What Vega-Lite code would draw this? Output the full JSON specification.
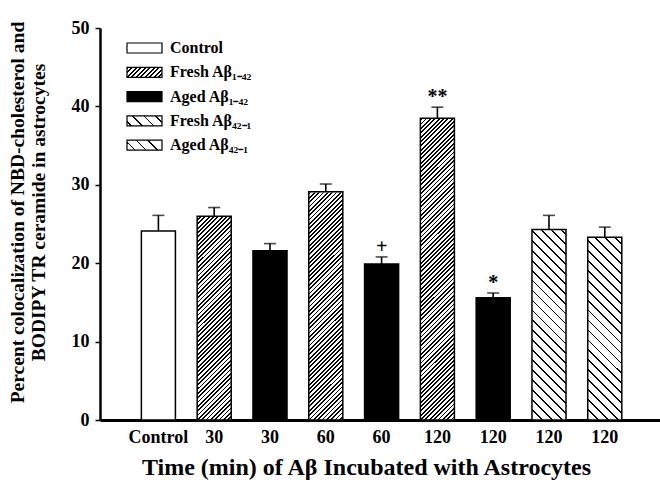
{
  "$schema": "https://vega.github.io/schema/vega-lite/v6.json",
  "autosize": {"type": "none"},
  "padding": {"left": 100, "top": 28, "right": 0, "bottom": 65},
  "width": 560,
  "height": 392,
  "background": "#ffffff",
  "config": {
    "view": {"stroke": null},
    "font": "Liberation Serif"
  },
  "data": {
    "values": [
      {"id": "Control|1", "group": "Control", "prep": "Control", "peptide": "none", "value": 24.1, "err": 26.1, "sig": ""},
      {"id": "30|2", "group": "Fresh Aβ₁₋₄₂", "prep": "Fresh", "peptide": "1-42", "value": 26.0, "err": 27.1, "sig": ""},
      {"id": "30|3", "group": "Aged Aβ₁₋₄₂", "prep": "Aged", "peptide": "1-42", "value": 21.6, "err": 22.5, "sig": ""},
      {"id": "60|4", "group": "Fresh Aβ₁₋₄₂", "prep": "Fresh", "peptide": "1-42", "value": 29.1, "err": 30.1, "sig": ""},
      {"id": "60|5", "group": "Aged Aβ₁₋₄₂", "prep": "Aged", "peptide": "1-42", "value": 19.9, "err": 20.8, "sig": "+"},
      {"id": "120|6", "group": "Fresh Aβ₁₋₄₂", "prep": "Fresh", "peptide": "1-42", "value": 38.5, "err": 39.9, "sig": "**"},
      {"id": "120|7", "group": "Aged Aβ₁₋₄₂", "prep": "Aged", "peptide": "1-42", "value": 15.6, "err": 16.2, "sig": "*"},
      {"id": "120|8", "group": "Fresh Aβ₄₂₋₁", "prep": "Fresh", "peptide": "42-1", "value": 24.3, "err": 26.1, "sig": ""},
      {"id": "120|9", "group": "Aged Aβ₄₂₋₁", "prep": "Aged", "peptide": "42-1", "value": 23.3, "err": 24.6, "sig": ""}
    ]
  },
  "encoding": {
    "x": {
      "field": "id",
      "type": "nominal",
      "scale": {
        "domain": ["Control|1", "30|2", "30|3", "60|4", "60|5", "120|6", "120|7", "120|8", "120|9"],
        "paddingInner": 0.39, "paddingOuter": 0.713, "align": 0.52
      },
      "axis": {
        "title": "Time (min) of Aβ Incubated with Astrocytes",
        "titleFont": "Liberation Serif",
        "titleFontSize": 24,
        "titleFontWeight": "bold",
        "titleColor": "#000",
        "titlePadding": 9,
        "titleX": 266,
        "labelExpr": "split(datum.label, '|')[0]",
        "labelAngle": 0,
        "labelFont": "Liberation Serif",
        "labelFontSize": 18,
        "labelFontWeight": "bold",
        "labelColor": "#000",
        "labelPadding": 8,
        "ticks": false,
        "tickSize": 0,
        "domainColor": "#000",
        "domainWidth": 3
      }
    },
    "y": {
      "field": "value",
      "type": "quantitative",
      "scale": {"domain": [0, 50], "nice": false},
      "axis": {
        "title": ["Percent colocalization of NBD-cholesterol and", "BODIPY TR ceramide in astrocytes"],
        "titleFont": "Liberation Serif",
        "titleFontSize": 19.5,
        "titleFontWeight": "bold",
        "titleColor": "#000",
        "titleLineHeight": 21,
        "titlePadding": 23,
        "titleY": 184,
        "values": [0, 10, 20, 30, 40, 50],
        "labelFont": "Liberation Serif",
        "labelFontSize": 18,
        "labelFontWeight": "bold",
        "labelColor": "#000",
        "labelPadding": 6,
        "tickSize": 5,
        "tickWidth": 1.5,
        "tickColor": "#000",
        "domainColor": "#000",
        "domainWidth": 2.5,
        "grid": false
      }
    }
  },
  "layer": [
    {
      "description": "Fresh A-beta 1-42 columns: tall '////' hatched slabs, trimmed to bar height by the mask layer",
      "transform": [{"filter": "datum.prep == 'Fresh' && datum.peptide == '1-42'"}],
      "mark": {
        "type": "bar",
        "fill": {
          "gradient": "linear", "x1": 0, "y1": 0, "x2": 0.118776, "y2": 1.09553,
          "stops": [
            {"offset":0,"color":"#000"},{"offset":0.00525,"color":"#000"},{"offset":0.00525,"color":"#fff"},{"offset":0.0125,"color":"#fff"},
            {"offset":0.0125,"color":"#000"},{"offset":0.01775,"color":"#000"},{"offset":0.01775,"color":"#fff"},{"offset":0.025,"color":"#fff"},
            {"offset":0.025,"color":"#000"},{"offset":0.03025,"color":"#000"},{"offset":0.03025,"color":"#fff"},{"offset":0.0375,"color":"#fff"},
            {"offset":0.0375,"color":"#000"},{"offset":0.04275,"color":"#000"},{"offset":0.04275,"color":"#fff"},{"offset":0.05,"color":"#fff"},
            {"offset":0.05,"color":"#000"},{"offset":0.05525,"color":"#000"},{"offset":0.05525,"color":"#fff"},{"offset":0.0625,"color":"#fff"},
            {"offset":0.0625,"color":"#000"},{"offset":0.06775,"color":"#000"},{"offset":0.06775,"color":"#fff"},{"offset":0.075,"color":"#fff"},
            {"offset":0.075,"color":"#000"},{"offset":0.08025,"color":"#000"},{"offset":0.08025,"color":"#fff"},{"offset":0.0875,"color":"#fff"},
            {"offset":0.0875,"color":"#000"},{"offset":0.09275,"color":"#000"},{"offset":0.09275,"color":"#fff"},{"offset":0.1,"color":"#fff"},
            {"offset":0.1,"color":"#000"},{"offset":0.10525,"color":"#000"},{"offset":0.10525,"color":"#fff"},{"offset":0.1125,"color":"#fff"},
            {"offset":0.1125,"color":"#000"},{"offset":0.11775,"color":"#000"},{"offset":0.11775,"color":"#fff"},{"offset":0.125,"color":"#fff"},
            {"offset":0.125,"color":"#000"},{"offset":0.13025,"color":"#000"},{"offset":0.13025,"color":"#fff"},{"offset":0.1375,"color":"#fff"},
            {"offset":0.1375,"color":"#000"},{"offset":0.14275,"color":"#000"},{"offset":0.14275,"color":"#fff"},{"offset":0.15,"color":"#fff"},
            {"offset":0.15,"color":"#000"},{"offset":0.15525,"color":"#000"},{"offset":0.15525,"color":"#fff"},{"offset":0.1625,"color":"#fff"},
            {"offset":0.1625,"color":"#000"},{"offset":0.16775,"color":"#000"},{"offset":0.16775,"color":"#fff"},{"offset":0.175,"color":"#fff"},
            {"offset":0.175,"color":"#000"},{"offset":0.18025,"color":"#000"},{"offset":0.18025,"color":"#fff"},{"offset":0.1875,"color":"#fff"},
            {"offset":0.1875,"color":"#000"},{"offset":0.19275,"color":"#000"},{"offset":0.19275,"color":"#fff"},{"offset":0.2,"color":"#fff"},
            {"offset":0.2,"color":"#000"},{"offset":0.20525,"color":"#000"},{"offset":0.20525,"color":"#fff"},{"offset":0.2125,"color":"#fff"},
            {"offset":0.2125,"color":"#000"},{"offset":0.21775,"color":"#000"},{"offset":0.21775,"color":"#fff"},{"offset":0.225,"color":"#fff"},
            {"offset":0.225,"color":"#000"},{"offset":0.23025,"color":"#000"},{"offset":0.23025,"color":"#fff"},{"offset":0.2375,"color":"#fff"},
            {"offset":0.2375,"color":"#000"},{"offset":0.24275,"color":"#000"},{"offset":0.24275,"color":"#fff"},{"offset":0.25,"color":"#fff"},
            {"offset":0.25,"color":"#000"},{"offset":0.25525,"color":"#000"},{"offset":0.25525,"color":"#fff"},{"offset":0.2625,"color":"#fff"},
            {"offset":0.2625,"color":"#000"},{"offset":0.26775,"color":"#000"},{"offset":0.26775,"color":"#fff"},{"offset":0.275,"color":"#fff"},
            {"offset":0.275,"color":"#000"},{"offset":0.28025,"color":"#000"},{"offset":0.28025,"color":"#fff"},{"offset":0.2875,"color":"#fff"},
            {"offset":0.2875,"color":"#000"},{"offset":0.29275,"color":"#000"},{"offset":0.29275,"color":"#fff"},{"offset":0.3,"color":"#fff"},
            {"offset":0.3,"color":"#000"},{"offset":0.30525,"color":"#000"},{"offset":0.30525,"color":"#fff"},{"offset":0.3125,"color":"#fff"},
            {"offset":0.3125,"color":"#000"},{"offset":0.31775,"color":"#000"},{"offset":0.31775,"color":"#fff"},{"offset":0.325,"color":"#fff"},
            {"offset":0.325,"color":"#000"},{"offset":0.33025,"color":"#000"},{"offset":0.33025,"color":"#fff"},{"offset":0.3375,"color":"#fff"},
            {"offset":0.3375,"color":"#000"},{"offset":0.34275,"color":"#000"},{"offset":0.34275,"color":"#fff"},{"offset":0.35,"color":"#fff"},
            {"offset":0.35,"color":"#000"},{"offset":0.35525,"color":"#000"},{"offset":0.35525,"color":"#fff"},{"offset":0.3625,"color":"#fff"},
            {"offset":0.3625,"color":"#000"},{"offset":0.36775,"color":"#000"},{"offset":0.36775,"color":"#fff"},{"offset":0.375,"color":"#fff"},
            {"offset":0.375,"color":"#000"},{"offset":0.38025,"color":"#000"},{"offset":0.38025,"color":"#fff"},{"offset":0.3875,"color":"#fff"},
            {"offset":0.3875,"color":"#000"},{"offset":0.39275,"color":"#000"},{"offset":0.39275,"color":"#fff"},{"offset":0.4,"color":"#fff"},
            {"offset":0.4,"color":"#000"},{"offset":0.40525,"color":"#000"},{"offset":0.40525,"color":"#fff"},{"offset":0.4125,"color":"#fff"},
            {"offset":0.4125,"color":"#000"},{"offset":0.41775,"color":"#000"},{"offset":0.41775,"color":"#fff"},{"offset":0.425,"color":"#fff"},
            {"offset":0.425,"color":"#000"},{"offset":0.43025,"color":"#000"},{"offset":0.43025,"color":"#fff"},{"offset":0.4375,"color":"#fff"},
            {"offset":0.4375,"color":"#000"},{"offset":0.44275,"color":"#000"},{"offset":0.44275,"color":"#fff"},{"offset":0.45,"color":"#fff"},
            {"offset":0.45,"color":"#000"},{"offset":0.45525,"color":"#000"},{"offset":0.45525,"color":"#fff"},{"offset":0.4625,"color":"#fff"},
            {"offset":0.4625,"color":"#000"},{"offset":0.46775,"color":"#000"},{"offset":0.46775,"color":"#fff"},{"offset":0.475,"color":"#fff"},
            {"offset":0.475,"color":"#000"},{"offset":0.48025,"color":"#000"},{"offset":0.48025,"color":"#fff"},{"offset":0.4875,"color":"#fff"},
            {"offset":0.4875,"color":"#000"},{"offset":0.49275,"color":"#000"},{"offset":0.49275,"color":"#fff"},{"offset":0.5,"color":"#fff"},
            {"offset":0.5,"color":"#000"},{"offset":0.50525,"color":"#000"},{"offset":0.50525,"color":"#fff"},{"offset":0.5125,"color":"#fff"},
            {"offset":0.5125,"color":"#000"},{"offset":0.51775,"color":"#000"},{"offset":0.51775,"color":"#fff"},{"offset":0.525,"color":"#fff"},
            {"offset":0.525,"color":"#000"},{"offset":0.53025,"color":"#000"},{"offset":0.53025,"color":"#fff"},{"offset":0.5375,"color":"#fff"},
            {"offset":0.5375,"color":"#000"},{"offset":0.54275,"color":"#000"},{"offset":0.54275,"color":"#fff"},{"offset":0.55,"color":"#fff"},
            {"offset":0.55,"color":"#000"},{"offset":0.55525,"color":"#000"},{"offset":0.55525,"color":"#fff"},{"offset":0.5625,"color":"#fff"},
            {"offset":0.5625,"color":"#000"},{"offset":0.56775,"color":"#000"},{"offset":0.56775,"color":"#fff"},{"offset":0.575,"color":"#fff"},
            {"offset":0.575,"color":"#000"},{"offset":0.58025,"color":"#000"},{"offset":0.58025,"color":"#fff"},{"offset":0.5875,"color":"#fff"},
            {"offset":0.5875,"color":"#000"},{"offset":0.59275,"color":"#000"},{"offset":0.59275,"color":"#fff"},{"offset":0.6,"color":"#fff"},
            {"offset":0.6,"color":"#000"},{"offset":0.60525,"color":"#000"},{"offset":0.60525,"color":"#fff"},{"offset":0.6125,"color":"#fff"},
            {"offset":0.6125,"color":"#000"},{"offset":0.61775,"color":"#000"},{"offset":0.61775,"color":"#fff"},{"offset":0.625,"color":"#fff"},
            {"offset":0.625,"color":"#000"},{"offset":0.63025,"color":"#000"},{"offset":0.63025,"color":"#fff"},{"offset":0.6375,"color":"#fff"},
            {"offset":0.6375,"color":"#000"},{"offset":0.64275,"color":"#000"},{"offset":0.64275,"color":"#fff"},{"offset":0.65,"color":"#fff"},
            {"offset":0.65,"color":"#000"},{"offset":0.65525,"color":"#000"},{"offset":0.65525,"color":"#fff"},{"offset":0.6625,"color":"#fff"},
            {"offset":0.6625,"color":"#000"},{"offset":0.66775,"color":"#000"},{"offset":0.66775,"color":"#fff"},{"offset":0.675,"color":"#fff"},
            {"offset":0.675,"color":"#000"},{"offset":0.68025,"color":"#000"},{"offset":0.68025,"color":"#fff"},{"offset":0.6875,"color":"#fff"},
            {"offset":0.6875,"color":"#000"},{"offset":0.69275,"color":"#000"},{"offset":0.69275,"color":"#fff"},{"offset":0.7,"color":"#fff"},
            {"offset":0.7,"color":"#000"},{"offset":0.70525,"color":"#000"},{"offset":0.70525,"color":"#fff"},{"offset":0.7125,"color":"#fff"},
            {"offset":0.7125,"color":"#000"},{"offset":0.71775,"color":"#000"},{"offset":0.71775,"color":"#fff"},{"offset":0.725,"color":"#fff"},
            {"offset":0.725,"color":"#000"},{"offset":0.73025,"color":"#000"},{"offset":0.73025,"color":"#fff"},{"offset":0.7375,"color":"#fff"},
            {"offset":0.7375,"color":"#000"},{"offset":0.74275,"color":"#000"},{"offset":0.74275,"color":"#fff"},{"offset":0.75,"color":"#fff"},
            {"offset":0.75,"color":"#000"},{"offset":0.75525,"color":"#000"},{"offset":0.75525,"color":"#fff"},{"offset":0.7625,"color":"#fff"},
            {"offset":0.7625,"color":"#000"},{"offset":0.76775,"color":"#000"},{"offset":0.76775,"color":"#fff"},{"offset":0.775,"color":"#fff"},
            {"offset":0.775,"color":"#000"},{"offset":0.78025,"color":"#000"},{"offset":0.78025,"color":"#fff"},{"offset":0.7875,"color":"#fff"},
            {"offset":0.7875,"color":"#000"},{"offset":0.79275,"color":"#000"},{"offset":0.79275,"color":"#fff"},{"offset":0.8,"color":"#fff"},
            {"offset":0.8,"color":"#000"},{"offset":0.80525,"color":"#000"},{"offset":0.80525,"color":"#fff"},{"offset":0.8125,"color":"#fff"},
            {"offset":0.8125,"color":"#000"},{"offset":0.81775,"color":"#000"},{"offset":0.81775,"color":"#fff"},{"offset":0.825,"color":"#fff"},
            {"offset":0.825,"color":"#000"},{"offset":0.83025,"color":"#000"},{"offset":0.83025,"color":"#fff"},{"offset":0.8375,"color":"#fff"},
            {"offset":0.8375,"color":"#000"},{"offset":0.84275,"color":"#000"},{"offset":0.84275,"color":"#fff"},{"offset":0.85,"color":"#fff"},
            {"offset":0.85,"color":"#000"},{"offset":0.85525,"color":"#000"},{"offset":0.85525,"color":"#fff"},{"offset":0.8625,"color":"#fff"},
            {"offset":0.8625,"color":"#000"},{"offset":0.86775,"color":"#000"},{"offset":0.86775,"color":"#fff"},{"offset":0.875,"color":"#fff"},
            {"offset":0.875,"color":"#000"},{"offset":0.88025,"color":"#000"},{"offset":0.88025,"color":"#fff"},{"offset":0.8875,"color":"#fff"},
            {"offset":0.8875,"color":"#000"},{"offset":0.89275,"color":"#000"},{"offset":0.89275,"color":"#fff"},{"offset":0.9,"color":"#fff"},
            {"offset":0.9,"color":"#000"},{"offset":0.90525,"color":"#000"},{"offset":0.90525,"color":"#fff"},{"offset":0.9125,"color":"#fff"},
            {"offset":0.9125,"color":"#000"},{"offset":0.91775,"color":"#000"},{"offset":0.91775,"color":"#fff"},{"offset":0.925,"color":"#fff"},
            {"offset":0.925,"color":"#000"},{"offset":0.93025,"color":"#000"},{"offset":0.93025,"color":"#fff"},{"offset":0.9375,"color":"#fff"},
            {"offset":0.9375,"color":"#000"},{"offset":0.94275,"color":"#000"},{"offset":0.94275,"color":"#fff"},{"offset":0.95,"color":"#fff"},
            {"offset":0.95,"color":"#000"},{"offset":0.95525,"color":"#000"},{"offset":0.95525,"color":"#fff"},{"offset":0.9625,"color":"#fff"},
            {"offset":0.9625,"color":"#000"},{"offset":0.96775,"color":"#000"},{"offset":0.96775,"color":"#fff"},{"offset":0.975,"color":"#fff"},
            {"offset":0.975,"color":"#000"},{"offset":0.98025,"color":"#000"},{"offset":0.98025,"color":"#fff"},{"offset":0.9875,"color":"#fff"},
            {"offset":0.9875,"color":"#000"},{"offset":0.99275,"color":"#000"},{"offset":0.99275,"color":"#fff"},{"offset":1,"color":"#fff"}
          ]
        }
      },
      "encoding": {
        "y": {"datum": 40, "type": "quantitative"},
        "y2": {"datum": 0}
      }
    },
    {
      "description": "Reverse-sequence A-beta 42-1 columns: tall backslash-hatched slabs",
      "transform": [{"filter": "datum.peptide == '42-1'"}],
      "mark": {
        "type": "bar",
        "fill": {
          "gradient": "linear", "x1": 0, "y1": 1, "x2": 0.118776, "y2": -0.09553,
          "stops": [
            {"offset":0,"color":"#000"},{"offset":0.005,"color":"#000"},{"offset":0.005,"color":"#fff"},{"offset":0.0286,"color":"#fff"},
            {"offset":0.0286,"color":"#000"},{"offset":0.0336,"color":"#000"},{"offset":0.0336,"color":"#fff"},{"offset":0.0571,"color":"#fff"},
            {"offset":0.0571,"color":"#000"},{"offset":0.0621,"color":"#000"},{"offset":0.0621,"color":"#fff"},{"offset":0.0857,"color":"#fff"},
            {"offset":0.0857,"color":"#000"},{"offset":0.0907,"color":"#000"},{"offset":0.0907,"color":"#fff"},{"offset":0.1143,"color":"#fff"},
            {"offset":0.1143,"color":"#000"},{"offset":0.1193,"color":"#000"},{"offset":0.1193,"color":"#fff"},{"offset":0.1429,"color":"#fff"},
            {"offset":0.1429,"color":"#000"},{"offset":0.1479,"color":"#000"},{"offset":0.1479,"color":"#fff"},{"offset":0.1714,"color":"#fff"},
            {"offset":0.1714,"color":"#000"},{"offset":0.1764,"color":"#000"},{"offset":0.1764,"color":"#fff"},{"offset":0.2,"color":"#fff"},
            {"offset":0.2,"color":"#000"},{"offset":0.205,"color":"#000"},{"offset":0.205,"color":"#fff"},{"offset":0.2286,"color":"#fff"},
            {"offset":0.2286,"color":"#000"},{"offset":0.2336,"color":"#000"},{"offset":0.2336,"color":"#fff"},{"offset":0.2571,"color":"#fff"},
            {"offset":0.2571,"color":"#000"},{"offset":0.2621,"color":"#000"},{"offset":0.2621,"color":"#fff"},{"offset":0.2857,"color":"#fff"},
            {"offset":0.2857,"color":"#000"},{"offset":0.2907,"color":"#000"},{"offset":0.2907,"color":"#fff"},{"offset":0.3143,"color":"#fff"},
            {"offset":0.3143,"color":"#000"},{"offset":0.3193,"color":"#000"},{"offset":0.3193,"color":"#fff"},{"offset":0.3429,"color":"#fff"},
            {"offset":0.3429,"color":"#000"},{"offset":0.3479,"color":"#000"},{"offset":0.3479,"color":"#fff"},{"offset":0.3714,"color":"#fff"},
            {"offset":0.3714,"color":"#000"},{"offset":0.3764,"color":"#000"},{"offset":0.3764,"color":"#fff"},{"offset":0.4,"color":"#fff"},
            {"offset":0.4,"color":"#000"},{"offset":0.405,"color":"#000"},{"offset":0.405,"color":"#fff"},{"offset":0.4286,"color":"#fff"},
            {"offset":0.4286,"color":"#000"},{"offset":0.4336,"color":"#000"},{"offset":0.4336,"color":"#fff"},{"offset":0.4571,"color":"#fff"},
            {"offset":0.4571,"color":"#000"},{"offset":0.4621,"color":"#000"},{"offset":0.4621,"color":"#fff"},{"offset":0.4857,"color":"#fff"},
            {"offset":0.4857,"color":"#000"},{"offset":0.4907,"color":"#000"},{"offset":0.4907,"color":"#fff"},{"offset":0.5143,"color":"#fff"},
            {"offset":0.5143,"color":"#000"},{"offset":0.5193,"color":"#000"},{"offset":0.5193,"color":"#fff"},{"offset":0.5429,"color":"#fff"},
            {"offset":0.5429,"color":"#000"},{"offset":0.5479,"color":"#000"},{"offset":0.5479,"color":"#fff"},{"offset":0.5714,"color":"#fff"},
            {"offset":0.5714,"color":"#000"},{"offset":0.5764,"color":"#000"},{"offset":0.5764,"color":"#fff"},{"offset":0.6,"color":"#fff"},
            {"offset":0.6,"color":"#000"},{"offset":0.605,"color":"#000"},{"offset":0.605,"color":"#fff"},{"offset":0.6286,"color":"#fff"},
            {"offset":0.6286,"color":"#000"},{"offset":0.6336,"color":"#000"},{"offset":0.6336,"color":"#fff"},{"offset":0.6571,"color":"#fff"},
            {"offset":0.6571,"color":"#000"},{"offset":0.6621,"color":"#000"},{"offset":0.6621,"color":"#fff"},{"offset":0.6857,"color":"#fff"},
            {"offset":0.6857,"color":"#000"},{"offset":0.6907,"color":"#000"},{"offset":0.6907,"color":"#fff"},{"offset":0.7143,"color":"#fff"},
            {"offset":0.7143,"color":"#000"},{"offset":0.7193,"color":"#000"},{"offset":0.7193,"color":"#fff"},{"offset":0.7429,"color":"#fff"},
            {"offset":0.7429,"color":"#000"},{"offset":0.7479,"color":"#000"},{"offset":0.7479,"color":"#fff"},{"offset":0.7714,"color":"#fff"},
            {"offset":0.7714,"color":"#000"},{"offset":0.7764,"color":"#000"},{"offset":0.7764,"color":"#fff"},{"offset":0.8,"color":"#fff"},
            {"offset":0.8,"color":"#000"},{"offset":0.805,"color":"#000"},{"offset":0.805,"color":"#fff"},{"offset":0.8286,"color":"#fff"},
            {"offset":0.8286,"color":"#000"},{"offset":0.8336,"color":"#000"},{"offset":0.8336,"color":"#fff"},{"offset":0.8571,"color":"#fff"},
            {"offset":0.8571,"color":"#000"},{"offset":0.8621,"color":"#000"},{"offset":0.8621,"color":"#fff"},{"offset":0.8857,"color":"#fff"},
            {"offset":0.8857,"color":"#000"},{"offset":0.8907,"color":"#000"},{"offset":0.8907,"color":"#fff"},{"offset":0.9143,"color":"#fff"},
            {"offset":0.9143,"color":"#000"},{"offset":0.9193,"color":"#000"},{"offset":0.9193,"color":"#fff"},{"offset":0.9429,"color":"#fff"},
            {"offset":0.9429,"color":"#000"},{"offset":0.9479,"color":"#000"},{"offset":0.9479,"color":"#fff"},{"offset":0.9714,"color":"#fff"},
            {"offset":0.9714,"color":"#000"},{"offset":0.9764,"color":"#000"},{"offset":0.9764,"color":"#fff"},{"offset":1,"color":"#fff"}
          ]
        }
      },
      "encoding": {
        "y": {"datum": 40, "type": "quantitative"},
        "y2": {"datum": 0}
      }
    },
    {
      "description": "White cover above each hatched bar so the hatching stops at the bar's value",
      "transform": [{"filter": "datum.prep == 'Fresh' || datum.peptide == '42-1'"}],
      "mark": {"type": "bar", "fill": "#fff", "stroke": "#fff", "strokeWidth": 1.5},
      "encoding": {
        "y": {"field": "value", "type": "quantitative"},
        "y2": {"datum": 40}
      }
    },
    {
      "description": "Bar outlines; control is open, aged 1-42 is solid black",
      "mark": {"type": "bar", "stroke": "#000", "strokeWidth": 1.5},
      "encoding": {
        "fill": {
          "condition": [
            {"test": "datum.prep == 'Control'", "value": "#fff"},
            {"test": "datum.prep == 'Aged' && datum.peptide == '1-42'", "value": "#000"}
          ],
          "value": "transparent"
        }
      }
    },
    {
      "mark": {"type": "rule", "color": "#000", "strokeWidth": 1.6},
      "encoding": {
        "y": {"field": "value", "type": "quantitative"},
        "y2": {"field": "err"}
      }
    },
    {
      "mark": {"type": "tick", "color": "#000", "size": 12, "thickness": 1.6},
      "encoding": {
        "y": {"field": "err", "type": "quantitative"}
      }
    },
    {
      "transform": [{"filter": "datum.sig != ''"}],
      "mark": {"type": "text", "font": "Liberation Serif", "fontSize": 20, "fontWeight": "bold", "color": "#000", "baseline": "alphabetic", "dy": -4},
      "encoding": {
        "y": {"field": "err", "type": "quantitative"},
        "text": {"field": "sig"}
      }
    },
    {
      "description": "Invisible points that carry the legend; hatched swatches come from gradient-valued range entries",
      "mark": {"type": "square", "opacity": 0, "stroke": "#000", "strokeWidth": 1.2},
      "encoding": {
        "fill": {
          "field": "group",
          "type": "nominal",
          "scale": {
            "domain": ["Control", "Fresh Aβ₁₋₄₂", "Aged Aβ₁₋₄₂", "Fresh Aβ₄₂₋₁", "Aged Aβ₄₂₋₁"],
            "range": [
              "#fff",
              {"expr": "{gradient: 'linear', x1: 0, y1: 0, x2: 1.188679, y2: 0.339623, stops: [{offset: 0, color: '#000'}, {offset: 0.042, color: '#000'}, {offset: 0.042, color: '#fff'}, {offset: 0.1, color: '#fff'}, {offset: 0.1, color: '#000'}, {offset: 0.142, color: '#000'}, {offset: 0.142, color: '#fff'}, {offset: 0.2, color: '#fff'}, {offset: 0.2, color: '#000'}, {offset: 0.242, color: '#000'}, {offset: 0.242, color: '#fff'}, {offset: 0.3, color: '#fff'}, {offset: 0.3, color: '#000'}, {offset: 0.342, color: '#000'}, {offset: 0.342, color: '#fff'}, {offset: 0.4, color: '#fff'}, {offset: 0.4, color: '#000'}, {offset: 0.442, color: '#000'}, {offset: 0.442, color: '#fff'}, {offset: 0.5, color: '#fff'}, {offset: 0.5, color: '#000'}, {offset: 0.542, color: '#000'}, {offset: 0.542, color: '#fff'}, {offset: 0.6, color: '#fff'}, {offset: 0.6, color: '#000'}, {offset: 0.642, color: '#000'}, {offset: 0.642, color: '#fff'}, {offset: 0.7, color: '#fff'}, {offset: 0.7, color: '#000'}, {offset: 0.742, color: '#000'}, {offset: 0.742, color: '#fff'}, {offset: 0.8, color: '#fff'}, {offset: 0.8, color: '#000'}, {offset: 0.842, color: '#000'}, {offset: 0.842, color: '#fff'}, {offset: 0.9, color: '#fff'}, {offset: 0.9, color: '#000'}, {offset: 0.942, color: '#000'}, {offset: 0.942, color: '#fff'}, {offset: 1, color: '#fff'}]}"},
              "#000",
              {"expr": "{gradient: 'linear', x1: 0, y1: 1, x2: 1.188679, y2: 0.660377, stops: [{offset: 0, color: '#fff'}, {offset: 0.08, color: '#fff'}, {offset: 0.08, color: '#000'}, {offset: 0.115, color: '#000'}, {offset: 0.115, color: '#fff'}, {offset: 0.33, color: '#fff'}, {offset: 0.33, color: '#000'}, {offset: 0.365, color: '#000'}, {offset: 0.365, color: '#fff'}, {offset: 0.58, color: '#fff'}, {offset: 0.58, color: '#000'}, {offset: 0.615, color: '#000'}, {offset: 0.615, color: '#fff'}, {offset: 0.83, color: '#fff'}, {offset: 0.83, color: '#000'}, {offset: 0.865, color: '#000'}, {offset: 0.865, color: '#fff'}, {offset: 1, color: '#fff'}]}"},
              {"expr": "{gradient: 'linear', x1: 0, y1: 1, x2: 1.188679, y2: 0.660377, stops: [{offset: 0, color: '#fff'}, {offset: 0.16, color: '#fff'}, {offset: 0.16, color: '#000'}, {offset: 0.195, color: '#000'}, {offset: 0.195, color: '#fff'}, {offset: 0.41, color: '#fff'}, {offset: 0.41, color: '#000'}, {offset: 0.445, color: '#000'}, {offset: 0.445, color: '#fff'}, {offset: 0.66, color: '#fff'}, {offset: 0.66, color: '#000'}, {offset: 0.695, color: '#000'}, {offset: 0.695, color: '#fff'}, {offset: 1, color: '#fff'}]}"}
            ]
          },
          "legend": {
            "title": null,
            "orient": "none",
            "legendX": 24,
            "legendY": 12,
            "padding": 0,
            "symbolType": "M-1,-1H6V1H-1Z",
            "symbolSize": 100,
            "symbolStrokeColor": "#000",
            "symbolStrokeWidth": 1.2,
            "symbolOpacity": 1,
            "labelFont": "Liberation Serif",
            "labelFontSize": 16,
            "labelFontWeight": "bold",
            "labelColor": "#000",
            "labelOffset": 30,
            "labelLimit": 300,
            "rowPadding": 8.3
          }
        }
      }
    }
  ]
}
